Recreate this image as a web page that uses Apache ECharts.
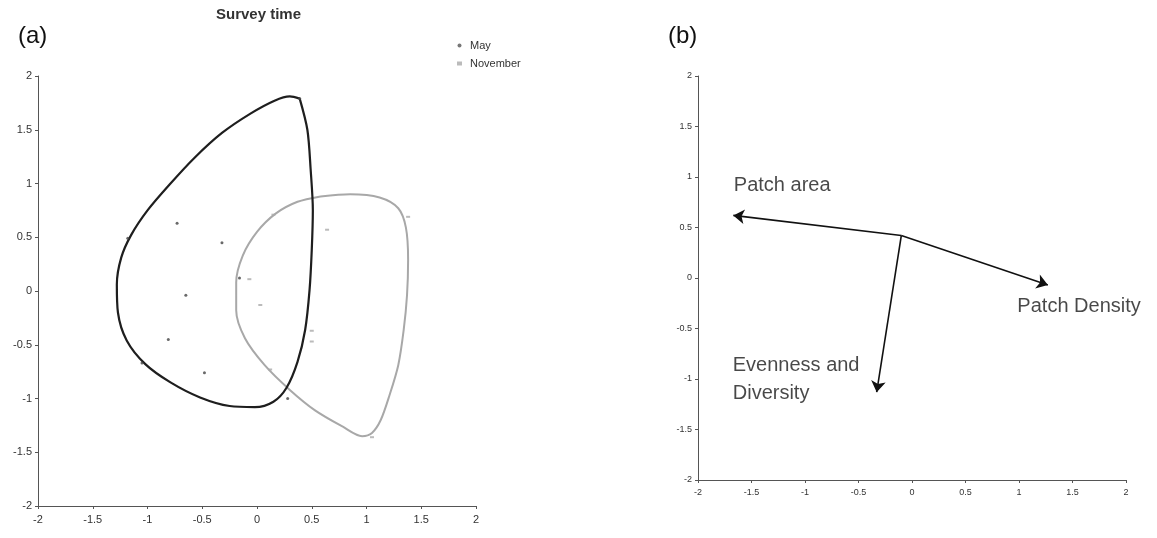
<!DOCTYPE html>
<html>
<head>
<meta charset="utf-8">
<script src="https://cdn.jsdelivr.net/npm/echarts@6/dist/echarts.min.js"></script>
<style>
html,body{margin:0;padding:0;background:#fff;}
#main{width:1157px;height:538px;}
</style>
</head>
<body>
<div id="main"></div>
<script>
// ---- Panel (a): survey time ----
const axisTicks = [-2, -1.5, -1, -0.5, 0, 0.5, 1, 1.5, 2];
const mayPoints = [[0.39,1.79],[-1.18,0.49],[-0.73,0.63],[-0.32,0.45],[-0.16,0.12],[-0.65,-0.04],[-0.81,-0.45],[-1.05,-0.67],[-0.48,-0.76],[0.28,-1.0]];
const novPoints = [[-0.07,0.11],[0.03,-0.13],[0.15,0.71],[0.50,-0.37],[0.50,-0.47],[0.64,0.57],[1.38,0.69],[1.05,-1.36],[0.12,-0.73]];
const mayHull = [[0.39,1.79],[0.46,1.50],[0.49,1.13],[0.51,0.75],[0.50,0.38],[0.48,0.01],[0.44,-0.36],[0.37,-0.66],[0.27,-0.90],[0.15,-1.03],[-0.02,-1.08],[-0.25,-1.07],[-0.52,-0.99],[-0.79,-0.85],[-1.02,-0.68],[-1.19,-0.46],[-1.27,-0.20],[-1.28,0.06],[-1.24,0.31],[-1.15,0.52],[-1.00,0.75],[-0.79,1.00],[-0.57,1.24],[-0.32,1.47],[-0.06,1.65],[0.16,1.77],[0.30,1.81],[0.39,1.79]];
const novHull = [[0.58,0.88],[0.85,0.90],[1.12,0.87],[1.29,0.77],[1.36,0.59],[1.38,0.29],[1.37,-0.04],[1.34,-0.36],[1.29,-0.69],[1.21,-0.97],[1.13,-1.20],[1.05,-1.32],[0.96,-1.35],[0.78,-1.26],[0.53,-1.11],[0.30,-0.92],[0.07,-0.69],[-0.11,-0.44],[-0.19,-0.18],[-0.19,0.08],[-0.13,0.33],[0.00,0.55],[0.17,0.72],[0.37,0.83],[0.58,0.88]];

// ---- Panel (b): biplot vectors ----
const vectorOrigin = [-0.10, 0.42];
const vectorNames = ['Patch area', 'Patch Density', 'Evenness and\nDiversity'];
const vectorTips = [[-1.67, 0.62], [1.27, -0.07], [-0.33, -1.13]];
const labelPositions = [[-1.67, 0.92], [0.98, -0.28], [-1.68, -1.0]];

const FONT = '"Liberation Sans", Arial, sans-serif';

function makeX(gridIndex, fs) {
  return {
    type: 'value', gridIndex: gridIndex, min: -2, max: 2, interval: 0.5,
    splitLine: {show: false},
    axisLine: {onZero: false, lineStyle: {color: '#555', width: 1}},
    axisTick: {length: 3, lineStyle: {color: '#555'}},
    axisLabel: {fontFamily: FONT, fontSize: fs, color: '#333', margin: 8,
      formatter: v => String(v)}
  };
}
function makeY(gridIndex, fs) {
  return {
    type: 'value', gridIndex: gridIndex, min: -2, max: 2, interval: 0.5,
    splitLine: {show: false},
    axisLine: {onZero: false, lineStyle: {color: '#555', width: 1}},
    axisTick: {length: 3, lineStyle: {color: '#555'}},
    axisLabel: {fontFamily: FONT, fontSize: fs, color: '#333', margin: 6,
      formatter: v => String(v)}
  };
}

const chart = echarts.init(document.getElementById('main'), null, {renderer: 'canvas'});
const option = {
  animation: false,
  backgroundColor: '#fff',
  grid: [
    {left: 38, top: 76, width: 438, height: 430},
    {left: 698, top: 76, width: 428, height: 404}
  ],
  xAxis: [makeX(0, 11), makeX(1, 9)],
  yAxis: [makeY(0, 11), makeY(1, 9)],
  legend: {
    orient: 'vertical', left: 452, top: 35, itemGap: 7,
    itemWidth: 5, itemHeight: 4,
    textStyle: {fontFamily: FONT, fontSize: 11, color: '#333', padding: [0,0,0,3]},
    data: [
      {name: 'May', icon: 'circle', itemStyle: {color: '#555'}},
      {name: 'November', icon: 'rect', itemStyle: {color: '#aaa'}}
    ]
  },
  graphic: [
    {type: 'text', left: 18, top: 24, style: {text: '(a)', font: '24px ' + FONT, fill: '#111'}},
    {type: 'text', left: 216, top: 7, style: {text: 'Survey time', font: 'bold 15px ' + FONT, fill: '#333'}},
    {type: 'text', left: 668, top: 24, style: {text: '(b)', font: '24px ' + FONT, fill: '#111'}}
  ],
  series: [
    {
      name: 'May hull', type: 'line', xAxisIndex: 0, yAxisIndex: 0,
      data: mayHull, smooth: 0.3, showSymbol: false, symbol: 'none',
      lineStyle: {color: '#1e1e1e', width: 2.2}, silent: true, z: 3
    },
    {
      name: 'November hull', type: 'line', xAxisIndex: 0, yAxisIndex: 0,
      data: novHull, smooth: 0.3, showSymbol: false, symbol: 'none',
      lineStyle: {color: '#a8a8a8', width: 2}, silent: true, z: 2
    },
    {
      name: 'May', type: 'scatter', xAxisIndex: 0, yAxisIndex: 0,
      data: mayPoints, symbol: 'circle', symbolSize: 3,
      itemStyle: {color: '#444'}, z: 4
    },
    {
      name: 'November', type: 'scatter', xAxisIndex: 0, yAxisIndex: 0,
      data: novPoints, symbol: 'rect', symbolSize: [4, 2],
      itemStyle: {color: '#aaa'}, z: 4
    },
    {
      name: 'Vectors', type: 'lines', coordinateSystem: 'cartesian2d',
      xAxisIndex: 1, yAxisIndex: 1,
      symbol: ['none', 'arrow'], symbolSize: 11,
      lineStyle: {color: '#111', width: 1.6, opacity: 1},
      data: vectorTips.map(t => ({coords: [vectorOrigin, t]})),
      silent: true, z: 3
    },
    {
      name: 'Vector labels', type: 'scatter', xAxisIndex: 1, yAxisIndex: 1,
      symbolSize: 1, itemStyle: {color: 'rgba(0,0,0,0)'},
      data: labelPositions.map((p, i) => ({value: p, name: vectorNames[i]})),
      label: {
        show: true, position: 'right', distance: 0, formatter: '{b}',
        fontFamily: FONT, fontSize: 20, color: '#1a1a1a', lineHeight: 28, align: 'left'
      },
      silent: true, z: 5
    }
  ]
};
chart.setOption(option);
</script>
</body>
</html>
